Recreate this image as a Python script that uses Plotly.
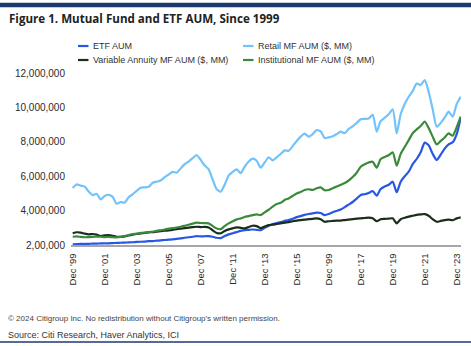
import pandas as pd
import plotly.graph_objects as go

# Quarter-end dates, Dec 1999 .. Mar 2024
dates = pd.date_range("1999-12-31", periods=98, freq="QE")

etf_aum = [2.04, 2.05, 2.06, 2.06, 2.07, 2.08, 2.08, 2.09, 2.10, 2.10, 2.11, 2.12, 2.13, 2.14, 2.15, 2.16,
           2.18, 2.19, 2.20, 2.22, 2.23, 2.25, 2.27, 2.29, 2.31, 2.33, 2.36, 2.39, 2.42, 2.45, 2.48, 2.52,
           2.50, 2.51, 2.52, 2.48, 2.42, 2.40, 2.52, 2.62, 2.68, 2.75, 2.82, 2.87, 2.88, 2.90, 2.88, 2.86,
           3.00, 3.12, 3.22, 3.28, 3.33, 3.40, 3.45, 3.52, 3.62, 3.68, 3.75, 3.80, 3.84, 3.88, 3.86, 3.74,
           3.80, 3.90, 3.98, 4.06, 4.20, 4.35, 4.50, 4.70, 4.91, 4.95, 5.02, 5.14, 4.87, 5.25, 5.40, 5.50,
           5.68, 5.06, 5.68, 6.00, 6.26, 6.70, 7.00, 7.39, 7.95, 7.80, 7.30, 6.94, 7.25, 7.60, 7.85, 7.97,
           8.45, 9.40]

retail_mf = [5.32, 5.52, 5.45, 5.39, 5.10, 4.90, 4.98, 4.65, 4.85, 4.92, 4.80, 4.40, 4.50, 4.46, 4.78, 4.95,
             5.15, 5.33, 5.35, 5.38, 5.62, 5.68, 5.75, 5.94, 6.10, 6.25, 6.20, 6.45, 6.70, 6.85, 7.05, 7.22,
             6.95, 6.62, 6.40, 5.80, 5.24, 5.10, 5.50, 6.05, 6.25, 6.40, 6.18, 6.55, 6.85, 7.02, 6.90, 6.50,
             6.80, 7.10, 6.92, 7.10, 7.30, 7.50, 7.48, 7.75, 8.05, 8.30, 8.48, 8.30, 8.45, 8.68, 8.60, 8.22,
             8.26, 8.32, 8.45, 8.59, 8.50, 8.75, 8.90, 9.10, 9.31, 9.33, 9.35, 9.57, 8.59, 9.20, 9.40, 9.60,
             9.89, 8.49, 9.60, 10.20, 10.62, 10.95, 11.39, 11.30, 11.59, 10.91, 9.90, 8.88, 9.10, 9.40, 9.75, 9.46,
             10.20, 10.62]

variable_annuity_mf = [2.68, 2.74, 2.72, 2.66, 2.62, 2.64, 2.60, 2.52, 2.56, 2.58, 2.54, 2.48, 2.47, 2.50, 2.55, 2.60,
                       2.64, 2.68, 2.70, 2.73, 2.75, 2.78, 2.80, 2.83, 2.85, 2.88, 2.92, 2.95, 2.98, 3.01, 3.04, 3.06,
                       3.04, 3.05, 3.02, 2.85, 2.70, 2.68, 2.82, 2.91, 2.97, 3.03, 3.00, 2.97, 3.05, 3.12, 3.10, 2.98,
                       3.08, 3.16, 3.18, 3.22, 3.26, 3.30, 3.33, 3.38, 3.42, 3.45, 3.48, 3.50, 3.52, 3.55, 3.50, 3.35,
                       3.38, 3.40, 3.42, 3.42, 3.45, 3.48, 3.50, 3.53, 3.55, 3.57, 3.59, 3.55, 3.38, 3.50, 3.52, 3.53,
                       3.55, 3.26, 3.50, 3.58, 3.65, 3.70, 3.75, 3.78, 3.80, 3.70, 3.50, 3.35, 3.40, 3.45, 3.47, 3.44,
                       3.55, 3.61]

institutional_mf = [2.48, 2.50, 2.47, 2.45, 2.46, 2.47, 2.49, 2.48, 2.46, 2.47, 2.45, 2.44, 2.47, 2.52, 2.58, 2.64,
                    2.66, 2.70, 2.72, 2.75, 2.77, 2.82, 2.86, 2.90, 2.95, 2.98, 3.02, 3.06, 3.12, 3.18, 3.24, 3.30,
                    3.28, 3.27, 3.26, 3.10, 2.96, 2.92, 3.10, 3.26, 3.38, 3.49, 3.55, 3.63, 3.68, 3.74, 3.78, 3.74,
                    3.90, 4.05, 4.23, 4.38, 4.45, 4.62, 4.71, 4.85, 5.00, 5.08, 5.20, 5.24, 5.20, 5.30, 5.35, 5.18,
                    5.20, 5.30, 5.40, 5.50, 5.60, 5.75, 5.95, 6.20, 6.55, 6.70, 6.80, 6.84, 6.49, 7.00, 7.12, 7.22,
                    7.39, 6.61, 7.30, 7.70, 8.10, 8.50, 8.72, 8.92, 9.18, 8.80, 8.30, 7.85, 8.05, 8.25, 8.49, 8.35,
                    8.85, 9.46]

series_names = ["ETF AUM", "Retail MF AUM ($, MM)",
                "Variable Annuity MF AUM ($, MM)", "Institutional MF AUM ($, MM)"]
series_values = [etf_aum, retail_mf, variable_annuity_mf, institutional_mf]
series_colors = ["#2757e3", "#72c2fb", "#1b2e1c", "#3b8a3b"]

x_tick_dates = ["1999-12-31", "2001-12-31", "2003-12-31", "2005-12-31", "2007-12-31", "2009-12-31",
                "2011-12-31", "2013-12-31", "2015-12-31", "2017-12-31", "2019-12-31", "2021-12-31",
                "2023-12-31"]
x_tick_labels = ["Dec '99", "Dec '01", "Dec '03", "Dec '05", "Dec '07", "Dec '11", "Dec '13",
                 "Dec '15", "Dec '99", "Dec '17", "Dec '19", "Dec '21", "Dec '23"]
y_tick_values = [2000000, 4000000, 6000000, 8000000, 10000000, 12000000]
y_tick_labels = ["2,00,000", "4,000,000", "6,000,000", "8,000,000", "10,000,000", "12,000,000"]

W, H = 471, 346
L, R, T, B = 71, 10, 73, 101
PW, PH = W - L - R, H - T - B


def px(x):
    return (x - L) / PW


def py(y):
    return (H - B - y) / PH


SANS = "Liberation Sans, Arial, sans-serif"

fig = go.Figure()
for name, vals, col in zip(series_names, series_values, series_colors):
    fig.add_trace(go.Scatter(x=dates, y=[v * 1e6 for v in vals], mode="lines", name=name,
                             line=dict(color=col, width=2.2, shape="spline", smoothing=0.6),
                             showlegend=False, hoverinfo="skip"))

fig.update_layout(
    width=W, height=H, autosize=False,
    margin=dict(l=L, r=R, t=T, b=B, pad=0),
    paper_bgcolor="white", plot_bgcolor="white",
    showlegend=False,
    font=dict(family=SANS, color="#333333"),
)
fig.update_xaxes(type="date", range=["1999-11-22", "2024-04-07"],
                 tickvals=x_tick_dates, ticktext=x_tick_labels, tickangle=-90,
                 tickfont=dict(family=SANS, size=9.5, color="#2b2b2b"),
                 showgrid=False, zeroline=False, showline=True, linecolor="#a6a6a6", linewidth=1.5,
                 ticks="", ticklen=0, ticklabelstandoff=3)
fig.update_yaxes(range=[2000000, 12000000], tickvals=y_tick_values, ticktext=y_tick_labels,
                 tickfont=dict(family=SANS, size=10, color="#2b2b2b"),
                 showgrid=False, zeroline=False, showline=False, ticks="", ticklabelstandoff=5)

shapes = []
annotations = []
shapes.append(dict(type="rect", xref="paper", yref="paper", x0=px(0), x1=px(W), y0=py(7.3), y1=py(2.7),
                   fillcolor="#1c3a6e", line=dict(width=0), layer="above"))
shapes.append(dict(type="line", xref="paper", yref="paper", x0=px(0), x1=px(W), y0=py(342), y1=py(342),
                   line=dict(color="#1c3a6e", width=1.5), layer="above"))
annotations.append(dict(text="<b>Figure 1. Mutual Fund and ETF AUM, Since 1999</b>", xref="paper", yref="paper",
                        x=px(7), y=py(18), xanchor="left", yanchor="middle", showarrow=False,
                        font=dict(family="Open Sans, sans-serif", size=11.6, color="#222222")))
legend_pos = [(78, 46), (243, 46), (78, 60), (243, 60)]
for (lx, ly), name, col in zip(legend_pos, series_names, series_colors):
    shapes.append(dict(type="line", xref="paper", yref="paper", x0=px(lx), x1=px(lx + 10.5),
                       y0=py(ly), y1=py(ly), line=dict(color=col, width=2.2)))
    annotations.append(dict(text=name, xref="paper", yref="paper", x=px(lx + 13), y=py(ly),
                            xanchor="left", yanchor="middle", showarrow=False,
                            font=dict(family=SANS, size=9, color="#333333")))
annotations.append(dict(text="© 2024 Citigroup Inc. No redistribution without Citigroup's written permission.",
                        xref="paper", yref="paper", x=px(6), y=py(318), xanchor="left", yanchor="middle",
                        showarrow=False, font=dict(family=SANS, size=8, color="#444444")))
annotations.append(dict(text="Source: Citi Research, Haver Analytics, ICI",
                        xref="paper", yref="paper", x=px(6), y=py(335), xanchor="left", yanchor="middle",
                        showarrow=False, font=dict(family=SANS, size=9, color="#333333")))
fig.update_layout(shapes=shapes, annotations=annotations)

fig.write_html("out.html")
